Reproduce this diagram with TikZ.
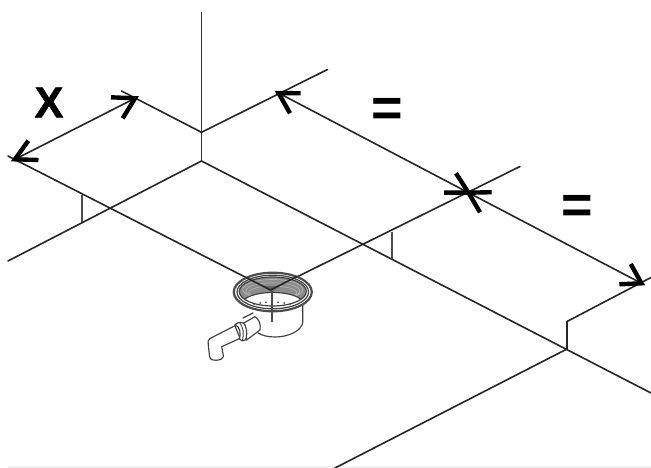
\documentclass[tikz,border=0pt]{standalone}
\usepackage{fontspec}
\setmainfont{Liberation Sans}
\newfontfamily\heavyface[BoldFeatures={FakeBold=1.2}]{Liberation Sans}
\tikzset{
  edge/.style={line width=1.6pt,draw=black!85,line cap=round,line join=round},
  tick/.style={line width=1.8pt,draw=black!70},
  barb/.style={line width=4.4pt,draw=black,line cap=butt,line join=miter},
  fine/.style={line width=1.15pt,draw=black!75,line cap=round,line join=round},
  lbl/.style={inner sep=0pt,font=\heavyface\bfseries\fontsize{43}{43}\selectfont},
  eqlbl/.style={inner sep=0pt,font=\bfseries\fontsize{54}{54}\selectfont}
}
\begin{document}
\begin{tikzpicture}[x=1pt,y=-1pt]
\useasboundingbox (0,0) rectangle (651,468);
\fill[white] (0,0) rectangle (651,468);
\fill[black!5] (8,466) rectangle (651,468);
% reference points
\coordinate (wallT) at (201.5,12);
\coordinate (cornerA) at (201.5,132.3);
\coordinate (cornerB) at (201.5,161);
\coordinate (Ltop) at (121.5,91);
\coordinate (Rtop) at (327.5,69.5);
\coordinate (Lend) at (8,156);
\coordinate (Lbot) at (8,261);
\coordinate (drain) at (270.5,290);
\coordinate (Rmid) at (520,166.5);
\coordinate (Rend) at (651,393);
\coordinate (stepA) at (567,349);
\coordinate (stepB) at (567,321.5);
\coordinate (stepC) at (651,277.5);
\coordinate (botEnd) at (335,468);
% floor lines
\draw[tick,draw=black!80] (wallT) -- (cornerB);
\draw[edge] (Ltop) -- (cornerA) -- (Rtop);
\draw[edge] (Lend) -- (drain) -- (Rmid);
\draw[edge] (Lbot) -- (cornerB) -- (Rend);
\draw[edge] (stepC) -- (stepB) -- (stepA) -- (botEnd);
\draw[tick] (82.3,195) -- (82.3,222);
\draw[tick] (392.3,231.5) -- (392.3,259);
% dimension lines
\coordinate (xA) at (15,159.3);
\coordinate (xB) at (135,98.3);
\coordinate (eA) at (278.5,93);
\coordinate (eM) at (468.5,192.7);
\coordinate (eB) at (641.5,283.3);
\draw[edge] (xA) -- (xB);
\draw[edge] (eA) -- (eM) -- (eB);
\draw[barb] (38.5,160) -- (xA) -- (28.3,140.7);
\draw[barb] (111,97.3) -- (xB) -- (122.7,118.3);
\draw[barb] (300.7,93.3) -- (eA) -- (290,113.3);
\draw[barb] (444,192.7) -- (eM) -- (456,173.3);
\draw[barb] (491.7,192.2) -- (eM) -- (480,212.3);
\draw[barb] (619.3,284.3) -- (eB) -- (630.7,264);
% labels
\node[lbl] (labX) at (49,102.5) {X};
\node[eqlbl] (labE1) at (387.5,112) {=};
\node[eqlbl] (labE2) at (577.5,209.5) {=};
% drain body
\draw[fine] (302.8,305) -- (302.8,322) .. controls (302,331) and (288,337) .. (275,337) .. controls (268,337) and (262,335.5) .. (258,333);
% outlet pipe
\draw[fine,fill=white] (243.3,323.3) -- (255,316.7) .. controls (259,319) and (261,324) .. (260,330) -- (246.7,340) -- cycle;
\draw[fine] (243,318) -- (253,313);
\draw[fine,fill=white] (235,325.7) -- (210,338.5) .. controls (207.5,340) and (208,342) .. (208.3,345) -- (209.5,356) .. controls (210,360) and (213,360.5) .. (216,360.3) .. controls (220,360) and (223,359) .. (223.5,356.5) -- (221.7,346.7) -- (240,338.3) -- cycle;
\draw[fine,fill=white] (235,324.5) .. controls (239,321.5) and (243,321.5) .. (245,325) .. controls (247.5,331) and (247,337) .. (245.5,340) .. controls (243.5,341.5) and (240.5,341) .. (239.5,339) .. controls (241,333) and (240,327) .. (235,324.5) -- cycle;
\draw[fine,line width=0.9pt] (239.5,322.5) .. controls (243.5,327) and (244,334) .. (242.5,340.5);
% rim
\draw[fine,line width=2.2pt,draw=black!70,fill=white] (272.8,292) ellipse [x radius=39,y radius=19.3];
\draw[fine,line width=1.2pt] (272.8,292) ellipse [x radius=35.8,y radius=16.8];
% grating ring
\begin{scope}
\clip (272.8,291.5) ellipse [x radius=33.5,y radius=14.5];
\fill[black!45] (272.8,291.5) ellipse [x radius=33.5,y radius=14.5];
\foreach \d in {0,3,6} \draw[line width=0.7pt,white!70!black] (272.8,289.5+\d*0.5) ellipse [x radius=30-\d,y radius=10-\d*0.6];
\fill[white] (272.8,303) ellipse [x radius=30,y radius=10.5];
\draw[fine] (272.8,303) ellipse [x radius=30,y radius=10.5];
\end{scope}
\draw[fine,line width=1.2pt] (272.8,291.5) ellipse [x radius=33.5,y radius=14.5];
\foreach \hx/\hy in {254/304,260/303,266/302.4,272/302.2,278/302.4,284/303,290/304}
  \fill[black!70] (\hx,\hy) circle (1pt);
% central wedge and drop line
\fill[black!60] (262,286) -- (280,286) -- (272,292) -- cycle;
\draw[tick,line width=1.2pt] (272,291) -- (272,322);
\draw[edge] (247,278) -- (drain) -- (297,276.5);
\end{tikzpicture}
\end{document}
